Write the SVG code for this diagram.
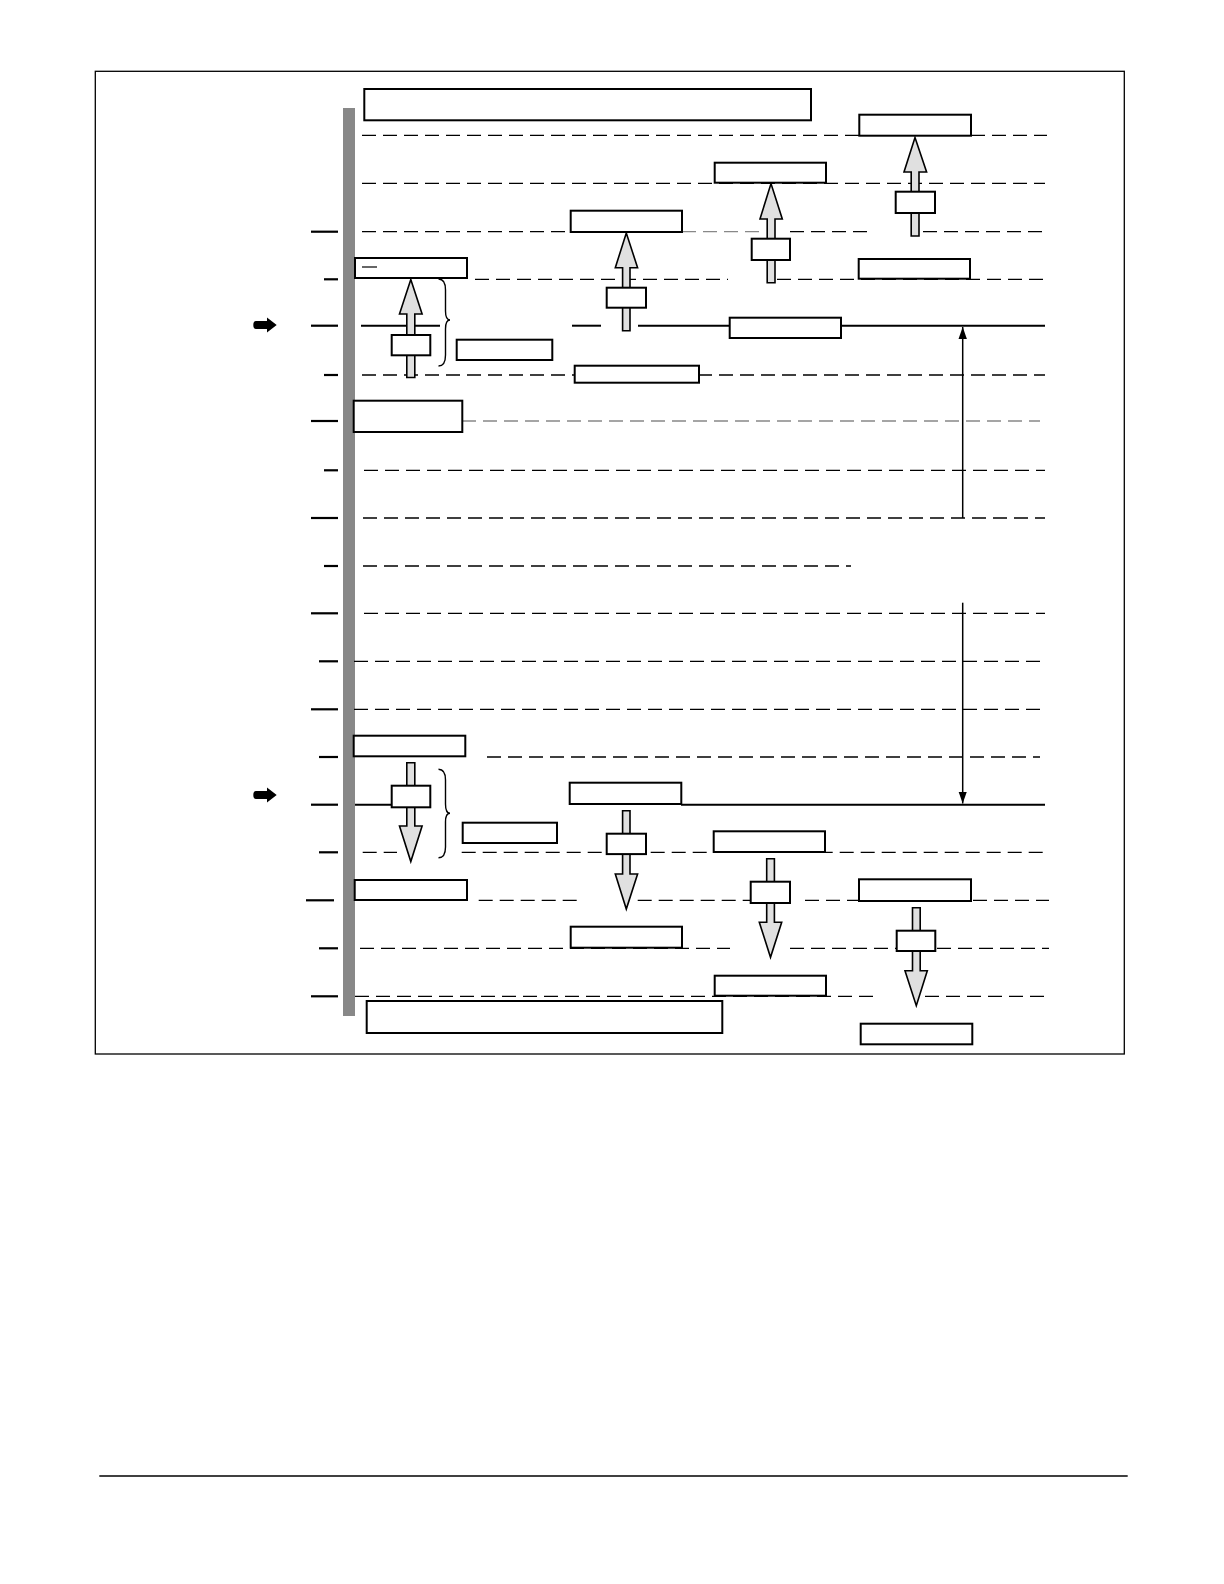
<svg xmlns="http://www.w3.org/2000/svg" width="1224" height="1584" viewBox="0 0 1224 1584">
<style>
.frame{fill:none;stroke:#000;stroke-width:1.3}
.box{fill:#fff;stroke:#000;stroke-width:2}
.dash{fill:none;stroke:#000;stroke-width:1.3;stroke-dasharray:14 7}
.dashg{fill:none;stroke:#888;stroke-width:1.3;stroke-dasharray:14 7}
.solid{fill:none;stroke:#000;stroke-width:2}
.tick{fill:none;stroke:#000;stroke-width:2.2}
.blk{fill:#e0e0e0;stroke:#000;stroke-width:1.6;stroke-linejoin:miter}
.brace{fill:none;stroke:#000;stroke-width:1.4}
.dim{fill:none;stroke:#000;stroke-width:1.5}
</style>
<defs>
<marker id="ah" viewBox="0 0 10 10" refX="10" refY="5" markerWidth="12" markerHeight="12" markerUnits="userSpaceOnUse" orient="auto">
<path d="M0,1.5 L10,5 L0,8.5 Z" fill="#000"/>
</marker>
</defs>
<rect width="1224" height="1584" fill="#fff"/>
<rect class="frame" x="95.3" y="71.3" width="1029" height="982.7"/>
<line x1="99.3" y1="1476" x2="1127.7" y2="1476" stroke="#000" stroke-width="1.6"/>
<rect id="bar" x="343" y="108" width="12" height="908" fill="#888"/>

<g id="connectors">
<g>
<line class="tick" x1="311" y1="231.7" x2="338" y2="231.7"/>
<line class="tick" x1="324" y1="279.3" x2="338" y2="279.3"/>
<line class="tick" x1="311" y1="325.7" x2="338" y2="325.7"/>
<line class="tick" x1="324" y1="375" x2="338" y2="375"/>
<line class="tick" x1="311" y1="421" x2="338" y2="421"/>
<line class="tick" x1="324" y1="470.3" x2="338" y2="470.3"/>
<line class="tick" x1="311" y1="518" x2="338" y2="518"/>
<line class="tick" x1="324" y1="566" x2="338" y2="566"/>
<line class="tick" x1="311" y1="613.3" x2="338" y2="613.3"/>
<line class="tick" x1="319" y1="661.3" x2="338" y2="661.3"/>
<line class="tick" x1="311" y1="709.3" x2="338" y2="709.3"/>
<line class="tick" x1="319" y1="757" x2="338" y2="757"/>
<line class="tick" x1="311" y1="804.7" x2="338" y2="804.7"/>
<line class="tick" x1="319" y1="852.3" x2="338" y2="852.3"/>
<line class="tick" x1="306" y1="900.3" x2="334" y2="900.3"/>
<line class="tick" x1="319" y1="948.3" x2="338" y2="948.3"/>
<line class="tick" x1="311" y1="996.3" x2="338" y2="996.3"/>
</g>
<line class="dash" x1="362" y1="135.3" x2="1047" y2="135.3"/>
<line class="dash" x1="362" y1="183.3" x2="1045" y2="183.3"/>
<line class="dash" x1="362" y1="231.7" x2="570" y2="231.7"/>
<line class="dashg" x1="682" y1="231.7" x2="760" y2="231.7"/>
<line class="dash" x1="790" y1="231.7" x2="870" y2="231.7"/>
<line class="dash" x1="923" y1="231.7" x2="1046" y2="231.7"/>
<line class="dash" x1="475" y1="279.3" x2="728" y2="279.3"/>
<line class="dash" x1="777" y1="279.3" x2="1045" y2="279.3"/>
<line class="solid" x1="361" y1="325.7" x2="440" y2="325.7"/>
<line class="solid" x1="572" y1="325.7" x2="601" y2="325.7"/>
<line class="solid" x1="638" y1="325.7" x2="1045" y2="325.7"/>
<line class="dash" x1="362" y1="375" x2="1045" y2="375"/>
<line class="dashg" x1="462" y1="421" x2="1040" y2="421"/>
<line class="dash" x1="364" y1="470.3" x2="1045" y2="470.3"/>
<line class="dash" x1="363" y1="518" x2="1045" y2="518"/>
<line class="dash" x1="363" y1="566" x2="851" y2="566"/>
<line class="dash" x1="364" y1="613.3" x2="1045" y2="613.3" stroke="#444"/>
<line class="dash" x1="354" y1="661.3" x2="1045" y2="661.3"/>
<line class="dash" x1="354" y1="709.3" x2="1045" y2="709.3"/>
<line class="dash" x1="487" y1="757" x2="1040" y2="757"/>
<line class="solid" x1="355" y1="804.7" x2="392" y2="804.7"/>
<line class="solid" x1="681" y1="804.7" x2="1045" y2="804.7"/>
<line class="dash" x1="362.7" y1="852.3" x2="397" y2="852.3"/>
<line class="dash" x1="461.7" y1="852.3" x2="1045" y2="852.3"/>
<line class="dash" x1="478.7" y1="900.3" x2="583.3" y2="900.3"/>
<line class="dash" x1="637.7" y1="900.3" x2="751" y2="900.3"/>
<line class="dash" x1="805" y1="900.3" x2="1049" y2="900.3"/>
<line class="dash" x1="360" y1="948.3" x2="730" y2="948.3"/>
<line class="dash" x1="790" y1="948.3" x2="1049" y2="948.3"/>
<line class="dash" x1="355" y1="996.3" x2="875" y2="996.3"/>
<line class="dash" x1="925" y1="996.3" x2="1049" y2="996.3"/>
<path class="blk" d="M406.8,377.5 L406.8,314 L399.5,314 L410.8,279.5 L422.1,314 L414.8,314 L414.8,377.5 Z"/>
<path class="blk" d="M622.6,330.7 L622.6,267.7 L615.3,267.7 L626.3,233 L637.6,267.7 L630,267.7 L630,330.7 Z"/>
<path class="blk" d="M767.2,282.7 L767.2,219 L760,219 L771,183.6 L782.3,219 L775,219 L775,282.7 Z"/>
<path class="blk" d="M911.2,236 L911.2,172 L904,172 L915,137.6 L926.6,172 L919,172 L919,236 Z"/>
<path class="blk" d="M406.8,762.7 L406.8,826 L399.5,826 L410.8,861.5 L422.1,826 L414.8,826 L414.8,762.7 Z"/>
<path class="blk" d="M622.6,810.7 L622.6,874 L615.3,874 L626.3,909 L637.6,874 L630,874 L630,810.7 Z"/>
<path class="blk" d="M766.7,858.7 L766.7,922.3 L759.3,922.3 L770.5,957.3 L781.7,922.3 L774.4,922.3 L774.4,858.7 Z"/>
<path class="blk" d="M912.5,907.7 L912.5,970.7 L905,970.7 L916.3,1005.7 L927.3,970.7 L920.2,970.7 L920.2,907.7 Z"/>
<path class="brace" d="M438.5,279 Q445.5,279 445.5,290 L445.5,311 Q445.5,320 450,320 Q445.5,320 445.5,329 L445.5,355 Q445.5,366 438.5,366"/>
<path class="brace" d="M438.5,769.3 Q445.5,769.3 445.5,780 L445.5,804 Q445.5,813.3 450,813.3 Q445.5,813.3 445.5,822 L445.5,847 Q445.5,857.7 438.5,857.7"/>
<line class="dim" x1="962.7" y1="518" x2="962.7" y2="327" marker-end="url(#ah)"/>
<line class="dim" x1="962.7" y1="602.7" x2="962.7" y2="803.5" marker-end="url(#ah)"/>
<path d="M256,321 L267,321 L267,317.5 L276.7,325 L267,332.5 L267,329 L256,329 Q253.3,329 253.3,325 Q253.3,321 256,321 Z" fill="#000"/>
<path d="M256,791 L267,791 L267,787.5 L276.7,795 L267,802.5 L267,799 L256,799 Q253.3,799 253.3,795 Q253.3,791 256,791 Z" fill="#000"/>
</g>

<g id="n-top"><rect class="box" x="364.3" y="89" width="446.7" height="31.3"/></g>
<g id="n-c4-top"><rect class="box" x="859.3" y="114.7" width="111.7" height="21"/></g>
<g id="n-c3-top"><rect class="box" x="714.7" y="162.7" width="111.3" height="20"/></g>
<g id="n-c2-top"><rect class="box" x="570.7" y="210.7" width="111.3" height="21.3"/></g>
<g id="n-left-4"><rect class="box" x="355" y="258" width="112" height="20"/><line x1="362" y1="267" x2="377" y2="267" stroke="#000" stroke-width="1.2"/></g>
<g id="n-c4-4"><rect class="box" x="858.7" y="259" width="111.3" height="19.7"/></g>
<g id="n-c3-5"><rect class="box" x="729.7" y="317.7" width="111.3" height="20.3"/></g>
<g id="n-brace-top"><rect class="box" x="456.7" y="339.7" width="95.6" height="20.3"/></g>
<g id="n-c2-6"><rect class="box" x="574.7" y="365.7" width="124.3" height="17"/></g>
<g id="n-left-7"><rect class="box" x="353.7" y="400.7" width="108.6" height="31.3"/></g>
<g id="n-left-14"><rect class="box" x="353.7" y="735.7" width="111.6" height="20.6"/></g>
<g id="n-c2-15"><rect class="box" x="569.7" y="782.7" width="111.6" height="21.3"/></g>
<g id="n-brace-bot"><rect class="box" x="462.7" y="822.7" width="94.3" height="20.3"/></g>
<g id="n-c3-16"><rect class="box" x="713.7" y="831.3" width="111.3" height="20.7"/></g>
<g id="n-left-17"><rect class="box" x="354.7" y="880" width="112.3" height="20"/></g>
<g id="n-c4-17"><rect class="box" x="859" y="879.3" width="112" height="21.7"/></g>
<g id="n-c2-18"><rect class="box" x="570.7" y="926.7" width="111.3" height="21"/></g>
<g id="n-c3-19"><rect class="box" x="714.7" y="975.7" width="111.3" height="20"/></g>
<g id="n-bottom"><rect class="box" x="366.7" y="1001" width="355.6" height="32"/></g>
<g id="n-c4-bot"><rect class="box" x="860.7" y="1023.7" width="111.6" height="20.6"/></g>

<g id="valves">
<rect class="box" x="391.7" y="335" width="38.6" height="20.3"/>
<rect class="box" x="606.7" y="287.7" width="39.3" height="20"/>
<rect class="box" x="751.7" y="238.7" width="38.3" height="21.3"/>
<rect class="box" x="895.7" y="191.7" width="39.3" height="21.3"/>
<rect class="box" x="391.7" y="785.7" width="38.6" height="21.6"/>
<rect class="box" x="606.7" y="833.7" width="39.3" height="20.4"/>
<rect class="box" x="750.7" y="881.7" width="39.3" height="21.3"/>
<rect class="box" x="896.7" y="930.7" width="38.6" height="20.3"/>
</g>
</svg>
